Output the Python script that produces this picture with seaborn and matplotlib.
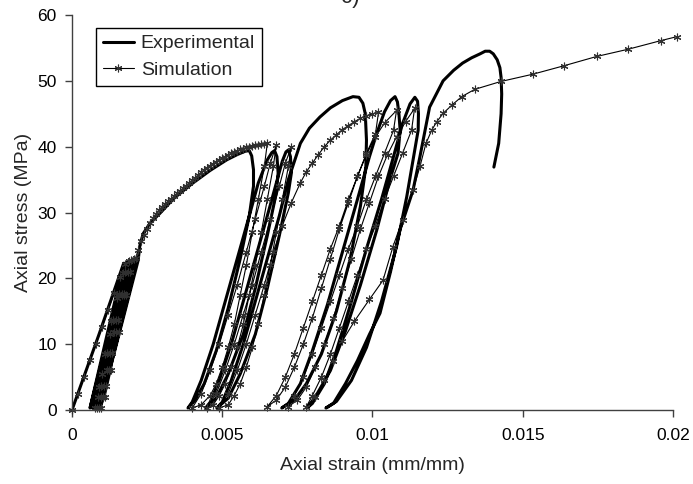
import matplotlib
matplotlib.use("Agg")
import matplotlib.pyplot as plt
import pandas as pd
import seaborn as sns

# ---------------------------------------------------------------
# Experimental cyclic test: (axial strain [mm/mm], axial stress [MPa])
# ---------------------------------------------------------------
exp_initial = [(0.0, 0.0), (0.0009, 11.5), (0.00172, 22.3)]

# small cycles at low strain: valleys / peaks visited alternately
exp_low_valleys = [(0.00060, 0.3), (0.00064, 0.4), (0.00068, 0.3), (0.00072, 0.5),
                   (0.00076, 0.3), (0.00080, 0.4), (0.00084, 0.3), (0.00088, 0.4),
                   (0.00093, 0.3)]
exp_low_peaks = [(0.00182, 22.4), (0.00187, 22.6), (0.00192, 22.7), (0.00197, 22.7),
                 (0.00202, 22.8), (0.00207, 22.7), (0.00212, 22.6), (0.00217, 22.8),
                 (0.00220, 22.7)]

exp_envelope = [(0.00226, 25.0), (0.00237, 26.8), (0.0026, 28.4), (0.00293, 29.9),
                (0.0034, 32.2), (0.0040, 34.4), (0.0046, 36.4), (0.00515, 38.0),
                (0.0055, 38.8), (0.00576, 39.3), (0.0059, 39.4), (0.00598, 38.6),
                (0.00604, 36.5), (0.00604, 34.0)]

exp_unload_1 = [(0.0059, 29.5), (0.0056, 23.0), (0.0052, 15.5), (0.0048, 9.0),
                (0.0044, 4.0), (0.0041, 1.5), (0.00386, 0.3)]
exp_reload_1 = [(0.0040, 1.2), (0.0043, 4.5), (0.0047, 10.0), (0.0051, 16.5),
                (0.0055, 23.0), (0.0059, 29.5), (0.0062, 34.5), (0.0065, 38.0),
                (0.00665, 39.1), (0.00674, 39.4), (0.00682, 38.5), (0.00686, 36.0)]
exp_unload_2 = [(0.0068, 33.0), (0.0065, 26.5), (0.0061, 18.5), (0.0057, 11.5),
                (0.0052, 5.5), (0.0048, 1.8), (0.00445, 0.3)]
exp_reload_2 = [(0.0046, 1.2), (0.0049, 4.5), (0.0053, 10.0), (0.0057, 16.5),
                (0.0061, 23.0), (0.0065, 29.5), (0.0068, 34.5), (0.0070, 37.8),
                (0.00712, 39.2), (0.00720, 39.5), (0.00727, 38.5), (0.0073, 36.0)]
exp_unload_3 = [(0.0072, 33.0), (0.0069, 26.5), (0.0065, 18.5), (0.0061, 11.5),
                (0.0056, 5.5), (0.0052, 1.8), (0.00482, 0.3)]
exp_reload_3 = [(0.0050, 1.2), (0.0053, 4.5), (0.0057, 10.0), (0.0061, 16.5),
                (0.0065, 23.0), (0.0069, 29.5), (0.0072, 35.0), (0.0076, 40.5),
                (0.0079, 42.8), (0.00825, 44.5), (0.0086, 45.9), (0.0090, 47.0),
                (0.00935, 47.6), (0.00955, 47.5), (0.00968, 46.6), (0.00976, 45.0),
                (0.0098, 41.0), (0.00978, 37.0)]
exp_unload_4 = [(0.0096, 31.0), (0.00925, 22.8), (0.0088, 15.0), (0.0083, 8.5),
                (0.0078, 4.0), (0.0074, 1.5), (0.00698, 0.3)]
exp_reload_4 = [(0.0072, 1.0), (0.0076, 4.0), (0.0080, 9.0), (0.0085, 16.0),
                (0.0090, 24.0), (0.0095, 32.0), (0.0099, 38.5), (0.01014, 42.0),
                (0.0104, 45.3), (0.0106, 47.0), (0.01075, 47.6), (0.01083, 46.8),
                (0.01088, 45.0), (0.01092, 42.5), (0.01085, 39.0)]
exp_unload_5 = [(0.01058, 35.0), (0.01014, 27.3), (0.0096, 19.0), (0.0091, 12.0),
                (0.0086, 6.0), (0.0081, 2.0), (0.00782, 0.3)]
exp_reload_5 = [(0.0080, 1.0), (0.0084, 4.0), (0.0088, 9.0), (0.0093, 16.5),
                (0.0098, 24.5), (0.0103, 32.0), (0.0107, 38.5), (0.0110, 43.5),
                (0.01125, 46.5), (0.01141, 47.5), (0.01150, 46.9), (0.01153, 45.0),
                (0.01152, 42.5)]
exp_unload_6 = [(0.01114, 32.4), (0.0108, 24.8), (0.0103, 16.5), (0.0098, 9.5),
                (0.0093, 4.5), (0.0088, 1.3), (0.00845, 0.3)]
exp_reload_6 = [(0.0087, 1.0), (0.0091, 4.0), (0.0095, 7.5), (0.0099, 11.5),
                (0.01025, 14.7), (0.0106, 21.0), (0.01091, 27.3), (0.01135, 33.4),
                (0.01158, 38.5), (0.0119, 46.0), (0.01235, 50.0), (0.0127, 51.6),
                (0.0130, 52.7), (0.0133, 53.5), (0.01358, 54.1), (0.01375, 54.5),
                (0.0139, 54.5), (0.01402, 54.1), (0.01415, 53.2), (0.01424, 52.0),
                (0.01428, 50.5), (0.0143, 48.0), (0.01428, 45.0), (0.0142, 40.5),
                (0.01404, 36.9)]

# ---------------------------------------------------------------
# Numerical simulation of the same loading history
# ---------------------------------------------------------------
sim_initial = [(0.0, 0.0), (0.0002, 2.5), (0.0004, 5.0), (0.0006, 7.6), (0.0008, 10.1),
               (0.0010, 12.6), (0.0012, 15.2), (0.0014, 17.7), (0.0016, 20.2),
               (0.00175, 22.2)]
sim_low_cycles = [
    (0.00150, 17.0), (0.00125, 11.5), (0.00100, 5.5), (0.00085, 2.0), (0.00075, 0.3),
    (0.00090, 3.5), (0.00110, 8.5), (0.00130, 13.5), (0.00150, 17.5), (0.00170, 20.8),
    (0.00190, 22.6),
    (0.00165, 17.5), (0.00140, 11.8), (0.00115, 6.0), (0.00095, 2.0), (0.00082, 0.3),
    (0.00098, 3.6), (0.00118, 8.6), (0.00138, 13.6), (0.00158, 17.6), (0.00178, 20.9),
    (0.00198, 22.8),
    (0.00172, 17.5), (0.00147, 11.8), (0.00122, 6.0), (0.00102, 2.0), (0.00089, 0.3),
    (0.00105, 3.6), (0.00125, 8.6), (0.00145, 13.6), (0.00165, 17.6), (0.00185, 20.9),
    (0.00205, 23.0),
    (0.00180, 17.5), (0.00155, 11.8), (0.00130, 6.0), (0.00110, 2.0), (0.00096, 0.3),
    (0.00112, 3.6), (0.00132, 8.6), (0.00152, 13.6), (0.00172, 17.6), (0.00192, 20.9),
    (0.00212, 23.1)]
sim_envelope = [(0.0022, 24.3), (0.0023, 25.6), (0.0024, 26.6), (0.0025, 27.5),
                (0.0026, 28.4), (0.0027, 29.2), (0.0028, 29.8), (0.0029, 30.4),
                (0.0030, 30.9), (0.0031, 31.3), (0.0032, 31.7), (0.0033, 32.1),
                (0.0034, 32.5), (0.0035, 32.9), (0.0036, 33.3), (0.0037, 33.7),
                (0.0038, 34.1), (0.0039, 34.5), (0.0040, 34.9), (0.0041, 35.3),
                (0.0042, 35.7), (0.0043, 36.1), (0.0044, 36.5), (0.0045, 36.8),
                (0.0046, 37.1), (0.0047, 37.4), (0.0048, 37.7), (0.0049, 38.0),
                (0.0050, 38.3), (0.0051, 38.5), (0.0052, 38.8), (0.0053, 39.0),
                (0.0054, 39.2), (0.0055, 39.4), (0.0056, 39.6), (0.0057, 39.7),
                (0.0058, 39.9), (0.0059, 40.0), (0.0060, 40.1), (0.0061, 40.2),
                (0.0062, 40.3), (0.0063, 40.4), (0.0064, 40.45), (0.0065, 40.5)]
sim_unload_1 = [(0.0064, 37.0), (0.0062, 32.0), (0.0060, 27.0), (0.0058, 22.0),
                (0.0056, 17.5), (0.0054, 13.0), (0.0052, 9.5), (0.0050, 6.5),
                (0.0048, 4.0), (0.0046, 2.2), (0.0043, 0.8), (0.0040, 0.3)]
sim_reload_1 = [(0.0043, 2.5), (0.0046, 6.0), (0.0049, 10.0), (0.0052, 14.5),
                (0.0055, 19.0), (0.0058, 24.0), (0.0061, 29.0), (0.0064, 34.0),
                (0.0066, 37.5), (0.0068, 40.3)]
sim_unload_2 = [(0.0067, 37.0), (0.0065, 32.0), (0.0063, 27.0), (0.0061, 22.0),
                (0.0059, 17.5), (0.0057, 13.0), (0.0055, 9.5), (0.0053, 6.5),
                (0.0051, 4.0), (0.0049, 2.2), (0.0047, 0.8), (0.0045, 0.3)]
sim_reload_2 = [(0.0048, 2.5), (0.0051, 6.0), (0.0054, 10.0), (0.0057, 14.5),
                (0.0060, 19.0), (0.0063, 24.0), (0.0066, 29.0), (0.0069, 34.0),
                (0.0071, 37.5), (0.0073, 40.0)]
sim_unload_3 = [(0.0072, 37.0), (0.0070, 32.0), (0.0068, 27.0), (0.0066, 22.0),
                (0.0064, 17.5), (0.0062, 13.0), (0.0060, 9.5), (0.0058, 6.5),
                (0.0056, 4.0), (0.0054, 2.2), (0.0052, 0.8), (0.0049, 0.3)]
sim_reload_3 = [(0.0052, 2.5), (0.0055, 6.0), (0.0058, 10.0), (0.0061, 14.5),
                (0.0064, 19.0), (0.0067, 24.0), (0.0070, 28.0), (0.0073, 31.5),
                (0.0076, 34.5), (0.0078, 36.2), (0.0080, 37.5), (0.0082, 38.8),
                (0.0084, 40.0), (0.0086, 41.0), (0.0088, 41.8), (0.0090, 42.6),
                (0.0092, 43.2), (0.0094, 43.8), (0.0096, 44.3), (0.0098, 44.7),
                (0.0100, 45.0), (0.0102, 45.2)]
sim_unload_4 = [(0.0101, 42.0), (0.0098, 39.0), (0.0095, 35.5), (0.0092, 32.0),
                (0.0089, 28.0), (0.0086, 24.5), (0.0083, 20.5), (0.0080, 16.5),
                (0.0077, 12.5), (0.0074, 8.5), (0.0071, 5.0), (0.0068, 2.2),
                (0.0065, 0.5)]
sim_reload_4 = [(0.0068, 1.5), (0.0071, 3.5), (0.0074, 6.5), (0.0077, 10.0),
                (0.0080, 14.0), (0.0083, 18.5), (0.0086, 23.0), (0.0089, 27.5),
                (0.0092, 31.5), (0.0095, 35.5), (0.0098, 38.8), (0.0101, 41.5),
                (0.0104, 43.6), (0.0108, 45.5)]
sim_unload_5 = [(0.0107, 42.5), (0.0104, 39.0), (0.0101, 35.5), (0.0098, 32.0),
                (0.0095, 28.0), (0.0092, 24.5), (0.0089, 20.5), (0.0086, 16.5),
                (0.0083, 12.5), (0.0080, 8.5), (0.0077, 5.0), (0.0074, 2.2),
                (0.0072, 0.5)]
sim_reload_5 = [(0.0075, 1.5), (0.0078, 3.5), (0.0081, 6.5), (0.0084, 10.0),
                (0.0087, 14.0), (0.0090, 18.5), (0.0093, 23.0), (0.0096, 27.5),
                (0.0099, 31.5), (0.0102, 35.5), (0.0105, 38.8), (0.0108, 41.5),
                (0.0111, 43.8), (0.0114, 45.8)]
sim_unload_6 = [(0.0113, 42.5), (0.0110, 39.0), (0.0107, 35.5), (0.0104, 32.0),
                (0.0101, 28.0), (0.0098, 24.5), (0.0095, 20.5), (0.0092, 16.5),
                (0.0089, 12.5), (0.0086, 8.5), (0.0083, 5.0), (0.0080, 2.2),
                (0.0078, 0.5)]
sim_final = [(0.0081, 2.0), (0.0084, 4.5), (0.0087, 7.5), (0.0090, 10.5),
             (0.0094, 13.5), (0.0099, 16.8), (0.01035, 19.7), (0.01068, 24.8),
             (0.0110, 28.9), (0.01135, 33.4), (0.01158, 37.0), (0.01178, 40.5),
             (0.01197, 42.5), (0.01214, 43.8), (0.01236, 45.1), (0.01264, 46.3),
             (0.01297, 47.6), (0.0134, 48.7), (0.01427, 49.9), (0.01533, 51.0),
             (0.01638, 52.3), (0.01746, 53.7), (0.01851, 54.8), (0.01959, 56.1),
             (0.02012, 56.7)]

x_ticks = [0, 0.005, 0.01, 0.015, 0.02]
x_tick_labels = ["0", "0.005", "0.01", "0.015", "0.02"]
y_ticks = [0, 10, 20, 30, 40, 50, 60]

# ---------------------------------------------------------------
# assemble the loading paths in chronological order
# ---------------------------------------------------------------
low_cycles = []
for valley, peak in zip(exp_low_valleys, exp_low_peaks):
    low_cycles += [valley, peak]

exp_path = (exp_initial + low_cycles + exp_envelope
            + exp_unload_1 + exp_reload_1 + exp_unload_2 + exp_reload_2
            + exp_unload_3 + exp_reload_3 + exp_unload_4 + exp_reload_4
            + exp_unload_5 + exp_reload_5 + exp_unload_6 + exp_reload_6)
sim_path = (sim_initial + sim_low_cycles + sim_envelope
            + sim_unload_1 + sim_reload_1 + sim_unload_2 + sim_reload_2
            + sim_unload_3 + sim_reload_3 + sim_unload_4 + sim_reload_4
            + sim_unload_5 + sim_reload_5 + sim_unload_6 + sim_final)

df_exp = pd.DataFrame(exp_path, columns=["strain", "stress"])
df_sim = pd.DataFrame(sim_path, columns=["strain", "stress"])

sns.set_style("ticks")
plt.rcParams["font.family"] = ["Liberation Sans", "DejaVu Sans"]

fig = plt.figure(figsize=(6.93, 4.84), dpi=100)
ax = fig.add_axes([0.1039, 0.1529, 0.8672, 0.8161])

sns.lineplot(data=df_exp, x="strain", y="stress", sort=False, estimator=None,
             color="black", linewidth=2.2, label="Experimental", ax=ax)
sns.lineplot(data=df_sim, x="strain", y="stress", sort=False, estimator=None,
             color="black", linewidth=0.8, marker=(6, 2, 0), markersize=5.5,
             markeredgecolor="#303030", markeredgewidth=0.8,
             label="Simulation", ax=ax, clip_on=False)
for line in ax.lines:
    line.set_solid_joinstyle("round")

ax.set_xlim(0, 0.02)
ax.set_ylim(0, 60)
ax.set_xticks(x_ticks)
ax.set_xticklabels(x_tick_labels)
ax.set_yticks(y_ticks)
ax.set_xlabel("Axial strain (mm/mm)", fontsize=14, labelpad=10)
ax.set_ylabel("Axial stress (MPa)", fontsize=14, labelpad=4)

for side in ("top", "right"):
    ax.spines[side].set_visible(False)
for side in ("left", "bottom"):
    ax.spines[side].set_color("#404040")
    ax.spines[side].set_linewidth(1.0)
ax.tick_params(axis="both", direction="out", length=5, width=1, color="#404040",
               labelsize=12.5, labelcolor="black")
ax.tick_params(axis="x", pad=8)
ax.tick_params(axis="y", pad=6)

leg = ax.legend(loc="upper left", bbox_to_anchor=(0.04, 0.967), borderaxespad=0,
                frameon=True, fancybox=False, framealpha=1, edgecolor="black",
                fontsize=14, handlelength=1.6, handletextpad=0.35,
                borderpad=0.35, labelspacing=0.45)
leg.get_frame().set_linewidth(1.0)

fig.text(0.505, 0.994, "c)", ha="center", va="baseline", fontsize=16)

fig.savefig("out.png", dpi=100)
